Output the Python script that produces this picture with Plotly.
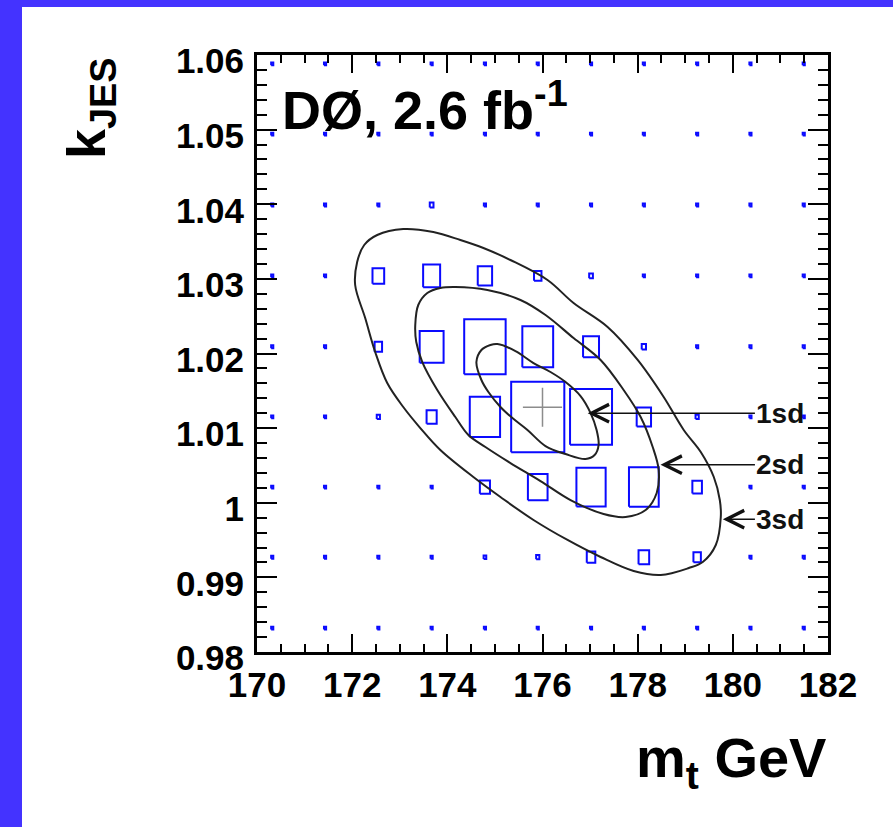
import plotly.graph_objects as go

# ---- ensemble grid: (m_t, k_JES) points and relative box sizes ----
mt_centres = [170.32, 171.43, 172.55, 173.67, 174.79, 175.90, 177.02, 178.13, 179.25, 180.37, 181.49]
kjes_centres = [0.9832, 0.9927, 1.0021, 1.0115, 1.0209, 1.0304, 1.0399, 1.0494, 1.0588]

# one row per k_JES value (bottom to top), one column per m_t value
box_weight = [
    [0.04, 0.04, 0.04, 0.04, 0.04, 0.04, 0.04, 0.04, 0.04, 0.04, 0.04],
    [0.04, 0.04, 0.04, 0.04, 0.05, 0.06, 0.16, 0.20, 0.14, 0.04, 0.04],
    [0.04, 0.04, 0.04, 0.04, 0.19, 0.37, 0.55, 0.56, 0.18, 0.04, 0.04],
    [0.04, 0.04, 0.06, 0.19, 0.57, 1.00, 0.79, 0.27, 0.06, 0.04, 0.04],
    [0.04, 0.04, 0.14, 0.45, 0.78, 0.58, 0.30, 0.08, 0.04, 0.04, 0.04],
    [0.04, 0.04, 0.22, 0.32, 0.27, 0.14, 0.07, 0.04, 0.04, 0.04, 0.04],
    [0.04, 0.04, 0.04, 0.07, 0.04, 0.04, 0.04, 0.04, 0.04, 0.04, 0.04],
    [0.04, 0.04, 0.04, 0.04, 0.04, 0.04, 0.04, 0.04, 0.04, 0.04, 0.04],
    [0.04, 0.04, 0.04, 0.04, 0.04, 0.04, 0.04, 0.04, 0.04, 0.04, 0.04],
]

# ---- fitted central value ----
best_mt = 176.0
best_kjes = 1.0128

# ---- likelihood contours ----
sd1_mt = [174.611, 174.716, 174.905, 175.053, 175.432, 175.811, 176.168, 176.484, 176.800,
          177.011, 177.137, 177.179, 177.095, 176.905, 176.484, 176.063, 175.684, 175.368,
          175.116, 174.863, 174.716]
sd1_k = [1.01886, 1.02047, 1.02114, 1.02127, 1.02033, 1.01872, 1.01752, 1.01618, 1.01430,
         1.01202, 1.00975, 1.00773, 1.00640, 1.00586, 1.00653, 1.00760, 1.00975, 1.01135,
         1.01283, 1.01484, 1.01645]

sd2_mt = [173.326, 173.389, 173.579, 173.853, 174.168, 174.842, 175.537, 176.063, 176.653,
          177.221, 177.705, 178.063, 178.316, 178.442, 178.400, 178.168, 177.747, 177.284,
          176.589, 175.958, 175.326, 174.800, 174.442, 174.168, 173.789, 173.474, 173.347]
sd2_k = [1.02382, 1.02650, 1.02811, 1.02878, 1.02891, 1.02851, 1.02717, 1.02516, 1.02207,
         1.01913, 1.01511, 1.01149, 1.00747, 1.00439, 1.00130, 0.99902, 0.99809, 0.99849,
         1.00036, 1.00291, 1.00532, 1.00747, 1.00908, 1.01149, 1.01511, 1.01886, 1.02154]

sd3_mt = [172.063, 172.105, 172.253, 172.526, 173.074, 173.705, 174.274, 174.758, 175.326,
          176.105, 176.653, 177.368, 178.000, 178.547, 178.968, 179.326, 179.600, 179.726,
          179.747, 179.642, 179.368, 179.074, 178.484, 177.916, 177.221, 176.526, 175.811,
          175.116, 174.547, 173.853, 173.432, 173.074, 172.737, 172.484, 172.274]
sd3_k = [1.02918, 1.03226, 1.03454, 1.03588, 1.03668, 1.03628, 1.03521, 1.03414, 1.03253,
         1.02985, 1.02676, 1.02355, 1.01913, 1.01417, 1.00975, 1.00680, 1.00345, 1.00037,
         0.99809, 0.99434, 0.99206, 0.99125, 0.99031, 0.99085, 0.99273, 0.99501, 0.99769,
         1.00077, 1.00345, 1.00707, 1.01001, 1.01283, 1.01604, 1.02020, 1.02475]

# ---- contour labels and where their arrows point ----
sd_labels = ["1sd", "2sd", "3sd"]
sd_label_mt = 181.0
sd_label_k = [1.0120, 1.0051, 0.9978]
sd_arrow_mt = [176.95, 178.48, 179.79]

# ---- axes ----
x_range = [170, 182]
y_range = [0.98, 1.06]
x_tickvals = [170, 172, 174, 176, 178, 180, 182]
y_tickvals = [0.98, 0.99, 1.00, 1.01, 1.02, 1.03, 1.04, 1.05, 1.06]
y_ticktext = ["0.98", "0.99", "1", "1.01", "1.02", "1.03", "1.04", "1.05", "1.06"]

FONT = "Liberation Sans, Arial, Helvetica, sans-serif"
W, H = 893, 827
ML, MR, MT, MB = 257, 65, 55, 175
PW, PH = W - ML - MR, H - MT - MB
BORDER = "#4433ff"


def px_to_paper_x(px):
    return (px - ML) / PW


def px_to_paper_y(py):
    return (H - MB - py) / PH


fig = go.Figure()

# boxes: side lengths scale with the cell weight
cell_dm = (mt_centres[-1] - mt_centres[0]) / (len(mt_centres) - 1)
cell_dk = (kjes_centres[-1] - kjes_centres[0]) / (len(kjes_centres) - 1)
bx, by = [], []
for j, k in enumerate(kjes_centres):
    for i, m in enumerate(mt_centres):
        w = box_weight[j][i]
        hw = 0.5 * w * cell_dm
        hh = 0.5 * w * cell_dk
        bx += [m - hw, m + hw, m + hw, m - hw, m - hw, None]
        by += [k - hh, k - hh, k + hh, k + hh, k - hh, None]
fig.add_trace(go.Scatter(x=bx, y=by, mode="lines",
                         line=dict(color="#0a0aff", width=2),
                         hoverinfo="skip"))

# contours
for cx, cy in [(sd1_mt, sd1_k), (sd2_mt, sd2_k), (sd3_mt, sd3_k)]:
    fig.add_trace(go.Scatter(x=cx + cx[:1], y=cy + cy[:1], mode="lines",
                             line=dict(color="#222222", width=2, shape="spline", smoothing=1.0),
                             hoverinfo="skip"))

# central value marker
fig.add_trace(go.Scatter(x=[best_mt], y=[best_kjes], mode="markers",
                         marker=dict(symbol="cross-thin", size=28,
                                     line=dict(color="#8c8c8c", width=1.5)),
                         hoverinfo="skip"))

annotations = []
for text, k, tip in zip(sd_labels, sd_label_k, sd_arrow_mt):
    annotations.append(dict(
        x=tip, y=k, xref="x", yref="y",
        ax=sd_label_mt, ay=k, axref="x", ayref="y",
        text=text, showarrow=True, arrowhead=5, arrowsize=2.3, arrowwidth=1.5,
        arrowcolor="#111111", standoff=0, startstandoff=0,
        font=dict(family=FONT, size=28, color="#111111", weight="bold"),
    ))

# experiment / luminosity tag
annotations.append(dict(
    x=px_to_paper_x(280), y=px_to_paper_y(106), xref="paper", yref="paper",
    xanchor="left", yanchor="middle", showarrow=False,
    text="DØ, 2.6 fb<sup>-1</sup>",
    font=dict(family=FONT, size=54, color="black", weight="bold"),
))

# axis titles
annotations.append(dict(
    x=px_to_paper_x(90), y=1.0, xref="paper", yref="paper",
    xanchor="center", yanchor="top", showarrow=False, textangle=-90,
    text="k<sub>JES</sub>",
    font=dict(family=FONT, size=54, color="black", weight="bold"),
))
annotations.append(dict(
    x=1.0, y=px_to_paper_y(724), xref="paper", yref="paper",
    xanchor="right", yanchor="top", showarrow=False,
    text="m<sub>t</sub> GeV",
    font=dict(family=FONT, size=56, color="black", weight="bold"),
))

shapes = [
    dict(type="rect", xref="paper", yref="paper", layer="above",
         x0=px_to_paper_x(0), x1=px_to_paper_x(22), y0=px_to_paper_y(H), y1=px_to_paper_y(0),
         fillcolor=BORDER, line=dict(width=0)),
    dict(type="rect", xref="paper", yref="paper", layer="above",
         x0=px_to_paper_x(0), x1=px_to_paper_x(W), y0=px_to_paper_y(7), y1=px_to_paper_y(0),
         fillcolor=BORDER, line=dict(width=0)),
]

axis_common = dict(
    showgrid=False, zeroline=False, showline=True, linecolor="black", linewidth=3,
    mirror="allticks", ticks="inside", tickwidth=2, tickcolor="black",
    tickfont=dict(family=FONT, size=35, color="black", weight="bold"),
)

fig.update_layout(
    width=W, height=H, autosize=False,
    margin=dict(l=ML, r=MR, t=MT, b=MB, pad=0),
    paper_bgcolor="white", plot_bgcolor="white",
    showlegend=False,
    xaxis=dict(range=x_range, tickvals=x_tickvals, ticklen=18,
               minor=dict(dtick=0.5, ticklen=8, ticks="inside", tickwidth=2, tickcolor="black"),
               **axis_common),
    yaxis=dict(range=y_range, tickvals=y_tickvals, ticktext=y_ticktext, ticklen=20,
               ticklabelshift=6, ticklabelstandoff=3,
               minor=dict(dtick=0.002, ticklen=10, ticks="inside", tickwidth=2, tickcolor="black"),
               **axis_common),
    annotations=annotations,
    shapes=shapes,
)

fig.write_html("out.html")
